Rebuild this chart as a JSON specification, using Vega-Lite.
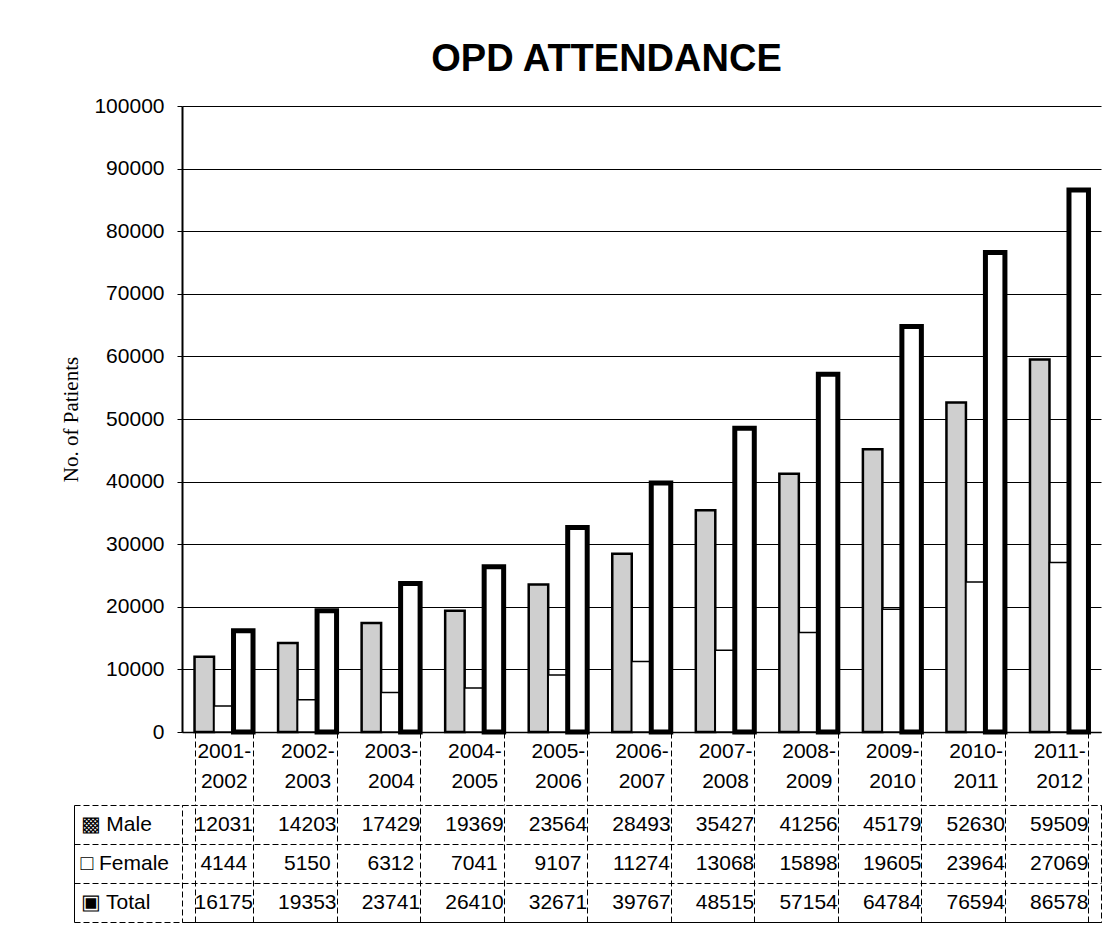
{
  "$schema": "https://vega.github.io/schema/vega-lite/v6.json",
  "background": "white",
  "padding": {"left": 60, "top": 41, "right": 6, "bottom": 5},
  "bounds": "flush",
  "spacing": 73,
  "config": {"font": "Liberation Sans", "view": {"stroke": null}},
  "datasets": {
    "opd": [
      {"period": "2001-2002", "series": "Male", "value": 12031},
      {"period": "2001-2002", "series": "Female", "value": 4144},
      {"period": "2001-2002", "series": "Total", "value": 16175},
      {"period": "2002-2003", "series": "Male", "value": 14203},
      {"period": "2002-2003", "series": "Female", "value": 5150},
      {"period": "2002-2003", "series": "Total", "value": 19353},
      {"period": "2003-2004", "series": "Male", "value": 17429},
      {"period": "2003-2004", "series": "Female", "value": 6312},
      {"period": "2003-2004", "series": "Total", "value": 23741},
      {"period": "2004-2005", "series": "Male", "value": 19369},
      {"period": "2004-2005", "series": "Female", "value": 7041},
      {"period": "2004-2005", "series": "Total", "value": 26410},
      {"period": "2005-2006", "series": "Male", "value": 23564},
      {"period": "2005-2006", "series": "Female", "value": 9107},
      {"period": "2005-2006", "series": "Total", "value": 32671},
      {"period": "2006-2007", "series": "Male", "value": 28493},
      {"period": "2006-2007", "series": "Female", "value": 11274},
      {"period": "2006-2007", "series": "Total", "value": 39767},
      {"period": "2007-2008", "series": "Male", "value": 35427},
      {"period": "2007-2008", "series": "Female", "value": 13068},
      {"period": "2007-2008", "series": "Total", "value": 48515},
      {"period": "2008-2009", "series": "Male", "value": 41256},
      {"period": "2008-2009", "series": "Female", "value": 15898},
      {"period": "2008-2009", "series": "Total", "value": 57154},
      {"period": "2009-2010", "series": "Male", "value": 45179},
      {"period": "2009-2010", "series": "Female", "value": 19605},
      {"period": "2009-2010", "series": "Total", "value": 64784},
      {"period": "2010-2011", "series": "Male", "value": 52630},
      {"period": "2010-2011", "series": "Female", "value": 23964},
      {"period": "2010-2011", "series": "Total", "value": 76594},
      {"period": "2011-2012", "series": "Male", "value": 59509},
      {"period": "2011-2012", "series": "Female", "value": 27069},
      {"period": "2011-2012", "series": "Total", "value": 86578}
    ]
  },
  "vconcat": [
    {
      "title": {"text": "OPD ATTENDANCE", "fontSize": 38, "fontWeight": "bold", "font": "Liberation Sans", "color": "black", "offset": 16, "anchor": "middle", "dx": -35},
      "width": 919,
      "height": 626,
      "data": {"name": "opd"},
      "mark": {"type": "bar", "stroke": "black"},
      "encoding": {
        "x": {
          "field": "period", "type": "nominal", "sort": null,
          "scale": {"paddingInner": 0.3, "paddingOuter": 0.15},
          "axis": {
            "title": null, "orient": "bottom", "labelAngle": 0,
            "labelExpr": "[slice(datum.label,0,5), slice(datum.label,5)]",
            "labelFontSize": 21, "labelColor": "black", "labelLineHeight": 30,
            "labelPadding": -65, "labelBaseline": "top",
            "tickBand": "extent", "tickSize": 73, "tickColor": "black", "tickDash": [6, 3], "tickWidth": 1,
            "domainColor": "black", "domainWidth": 1.5
          }
        },
        "xOffset": {"field": "series", "type": "nominal", "sort": ["Male", "Female", "Total"]},
        "y": {
          "field": "value", "type": "quantitative",
          "scale": {"domain": [0, 100000]},
          "axis": {
            "title": "No. of Patients", "titleFont": "Liberation Serif", "titleFontSize": 21, "titleFontWeight": "normal", "titleColor": "black", "titlePadding": 12,
            "values": [0, 10000, 20000, 30000, 40000, 50000, 60000, 70000, 80000, 90000, 100000],
            "format": "d", "labelFontSize": 21, "labelColor": "black", "labelPadding": 13,
            "tickSize": 5, "tickColor": "black", "domainColor": "black", "domainWidth": 2,
            "grid": true, "gridColor": "black", "gridOpacity": 1, "gridWidth": 1
          }
        },
        "fill": {"field": "series", "type": "nominal", "scale": {"domain": ["Male", "Female", "Total"], "range": ["#cfcfcf", "white", "white"]}, "legend": null},
        "strokeWidth": {
          "condition": [
            {"test": "datum.series == 'Total'", "value": 5},
            {"test": "datum.series == 'Male'", "value": 2.5}
          ],
          "value": 1.5
        }
      }
    },
    {
      "width": 919,
      "height": 117,
      "view": {"stroke": "black", "strokeDash": [6, 3], "strokeWidth": 1},
      "data": {"name": "opd"},
      "mark": {"type": "text", "fontSize": 21, "color": "black", "font": "Liberation Sans"},
      "encoding": {
        "x": {
          "field": "period", "type": "nominal", "sort": null,
          "scale": {"paddingInner": 0.3, "paddingOuter": 0.15},
          "axis": {"orient": "bottom", "title": null, "labels": false, "ticks": false, "domain": false, "grid": true, "tickBand": "extent", "gridColor": "black", "gridOpacity": 1, "gridDash": [6, 3]}
        },
        "y": {
          "field": "series", "type": "nominal", "sort": ["Male", "Female", "Total"],
          "scale": {"paddingInner": 0, "paddingOuter": 0},
          "axis": {
            "title": null, "offset": 108, "tickSize": -108, "tickBand": "extent",
            "grid": true, "gridDash": [6, 3], "gridColor": "black", "gridOpacity": 1,
            "domainColor": "black", "tickColor": "black", "tickDash": [6, 3],
            "labelAlign": "left", "labelPadding": 102, "labelFontSize": 21, "labelColor": "black",
            "labelExpr": "datum.value == 'Male' ? '▩ Male' : datum.value == 'Female' ? '□ Female' : datum.value == 'Total' ? '▣ Total' : ''"
          }
        },
        "text": {"field": "value", "type": "quantitative", "format": "d"}
      }
    }
  ]
}
